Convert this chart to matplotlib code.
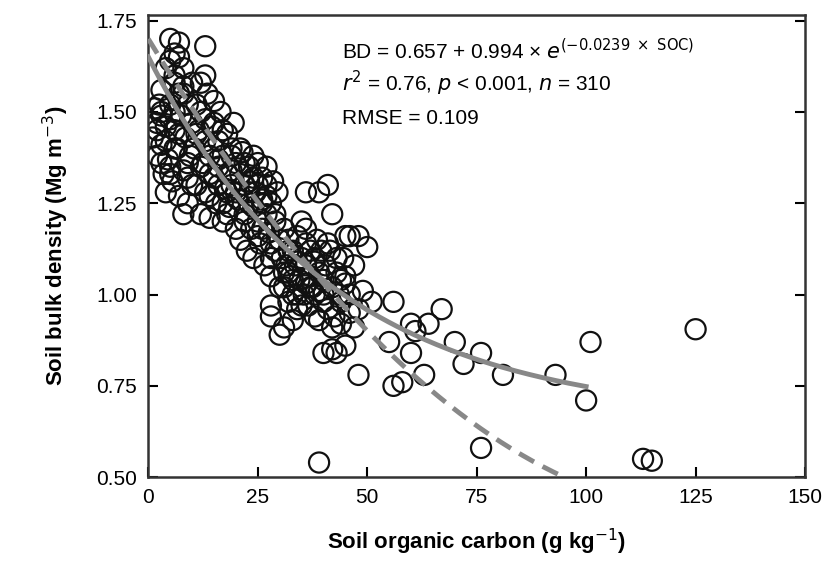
import matplotlib
matplotlib.use("Agg")
import matplotlib.pyplot as plt
import numpy as np

plt.rcParams['font.family'] = ['Liberation Sans', 'DejaVu Sans']

soc = [
 36,39,41,42,45,46,48,50,51,56,55,60,61,60,64,67,70,72,76,81,93,101,100,56,58,63,48,76,39,113,115,125,
 43,42,40,45,44,47,42,46,30,31,28,33,28,5,7,13,6,
 1,1.5,2,2,2.5,3,3,3.5,4,4,4.5,5,5,5.5,6,6,6.5,7,7,7.5,8,8,8.5,9,9,9.5,10,10,3,4,5,6,7,8,9,2,3,5,6,8,
 4,5,7,9,6,8,10,3,
 10.5,11,11,11.5,12,12,12.5,13,13,13.5,14,14,14.5,15,15,15.5,16,16,16.5,17,17,17.5,18,18,18.5,19,19,19.5,20,20,
 11,12,13,14,15,16,17,18,19,20,12,14,16,18,13,15,17,19,
 20.5,21,21,21.5,22,22,22.5,23,23,23.5,24,24,24.5,25,25,25.5,26,26,26.5,27,27,27.5,28,28,28.5,29,29,29.5,30,30,
 21,22,23,24,25,26,27,28,29,22,24,26,28,23,25,27,
 30.5,31,31,31.5,32,32,32.5,33,33,33.5,34,34,34.5,35,35,35.5,36,36,36.5,37,37,37.5,38,38,38.5,39,39,39.5,40,40,
 31,32,33,34,35,36,37,38,39,32,34,36,38,
 40.5,41,41.5,42,42.5,43,43.5,44,44.5,45,46,47,48,49,41,43,45,40,44,
]
bd = [
 1.28,1.28,1.30,1.22,1.16,1.16,1.16,1.13,0.98,0.98,0.87,0.92,0.90,0.84,0.92,0.96,0.87,0.81,0.84,0.78,0.78,0.87,0.71,0.75,0.76,0.78,0.78,0.58,0.54,0.55,0.545,0.905,
 0.84,0.85,0.84,0.86,0.92,0.91,0.91,0.95,0.89,0.91,0.94,0.93,0.97,1.70,1.69,1.68,1.66,
 1.43,1.51,1.38,1.47,1.52,1.41,1.56,1.33,1.46,1.62,1.37,1.52,1.64,1.31,1.45,1.58,1.40,1.27,1.55,1.49,1.34,1.62,1.43,1.25,1.52,1.38,1.30,1.47,1.50,1.42,1.35,1.60,1.44,1.57,1.36,1.45,1.49,1.33,1.40,1.55,
 1.28,1.48,1.65,1.32,1.50,1.22,1.58,1.36,
 1.40,1.30,1.52,1.45,1.22,1.58,1.36,1.48,1.28,1.55,1.38,1.21,1.46,1.32,1.53,1.25,1.42,1.35,1.50,1.20,1.38,1.29,1.44,1.33,1.24,1.40,1.30,1.47,1.18,1.36,
 1.44,1.35,1.60,1.27,1.40,1.30,1.45,1.22,1.34,1.28,1.50,1.33,1.37,1.28,1.42,1.47,1.25,1.38,
 1.26,1.33,1.15,1.39,1.22,1.30,1.12,1.35,1.25,1.18,1.32,1.10,1.28,1.20,1.36,1.14,1.26,1.32,1.08,1.22,1.30,1.17,1.25,1.05,1.31,1.12,1.20,1.28,1.02,1.15,
 1.40,1.36,1.28,1.24,1.30,1.18,1.35,1.10,1.22,1.20,1.38,1.25,1.14,1.31,1.16,1.27,
 1.10,1.02,1.18,1.08,1.15,0.98,1.05,1.12,1.00,1.08,1.16,0.96,1.04,1.10,1.20,1.00,1.08,1.14,0.97,1.05,1.12,1.02,1.09,0.94,1.15,1.01,1.06,1.12,0.98,1.04,
 1.06,1.12,1.04,1.00,0.97,1.18,1.02,1.10,0.93,1.06,1.09,1.03,1.00,
 1.08,0.96,1.12,1.02,0.94,1.06,1.00,0.98,1.10,1.03,1.00,1.08,0.96,1.01,1.14,1.10,1.05,1.00,1.04,
]

fit_x = np.linspace(0, 100, 200)
exp_a, exp_b, exp_k = 0.657, 0.994, 0.0239
dash_x = np.linspace(0, 95, 200)
quad = [1.70, -0.01971, 7.45e-5]

fig = plt.figure(figsize=(8.24, 5.62), dpi=100)
ax = fig.add_axes([0.180, 0.151, 0.797, 0.822])
ax.scatter(soc, bd, s=210, facecolors='none', edgecolors='#111111', linewidths=1.6, zorder=2)
ax.plot(fit_x, exp_a + exp_b*np.exp(-exp_k*fit_x), color='#888888', lw=3.5, zorder=3)
ax.plot(dash_x, quad[0] + quad[1]*dash_x + quad[2]*dash_x**2, color='#888888', lw=3.5,
        ls=(0, (3.5, 2)), zorder=3)

ax.set_xlim(0, 150)
ax.set_ylim(0.5, 1.765)
ax.set_xticks([0, 25, 50, 75, 100, 125, 150])
ax.set_yticks([0.5, 0.75, 1.0, 1.25, 1.5, 1.75])
ax.set_yticklabels(['0.50', '0.75', '1.00', '1.25', '1.50', '1.75'])
ax.tick_params(direction='in', length=7, width=1.5, labelsize=15, right=True, pad=8)
for s in ax.spines.values():
    s.set_linewidth(1.8)
    s.set_color('#333333')
ax.set_xlabel('Soil organic carbon (g kg$^{-1}$)', fontsize=16, fontweight='bold', labelpad=14)
ax.set_ylabel('Soil bulk density (Mg m$^{-3}$)', fontsize=16, fontweight='bold', labelpad=18)

ax.text(0.295, 0.905, r'BD = 0.657 + 0.994 × $e^{(-0.0239\ \times\ \mathrm{SOC})}$',
        transform=ax.transAxes, fontsize=15)
ax.text(0.295, 0.835, r'$r^2$ = 0.76, $p$ < 0.001, $n$ = 310', transform=ax.transAxes, fontsize=15)
ax.text(0.295, 0.765, 'RMSE = 0.109', transform=ax.transAxes, fontsize=15)

fig.savefig('out.png', dpi=100)
